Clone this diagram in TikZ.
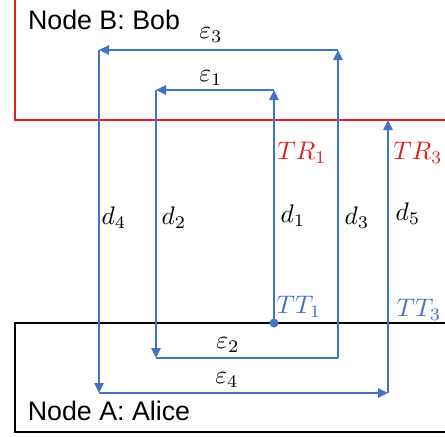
\documentclass[tikz,border=0pt]{standalone}
\usepackage{fontspec}
\setmainfont{Liberation Sans}
\usetikzlibrary{arrows.meta}
\definecolor{linkblue}{RGB}{68,114,196}
\definecolor{bobred}{RGB}{226,30,30}
\begin{document}
\begin{tikzpicture}[x=0.5pt, y=-0.5pt,
			link/.style = {draw=linkblue, line width=1pt},
			tip/.style = {-{Triangle[length=5pt, width=4.6pt]}},
			lbl/.style = {inner sep=0pt, font=\fontsize{10}{12}\selectfont, scale=1.27, transform shape},
			box/.style = {inner sep=0pt, font=\fontsize{13.4}{16}\selectfont}]
			
			\useasboundingbox (0,0) rectangle (445,436);
			
			% the two nodes
			\draw[bobred, line width=1pt] (15,-5) -- (15,120) -- (450,120);
			\draw[black, line width=0.75pt] (450,323) -- (15,323) -- (15,432) -- (450,432);
			\node[box] (bob) at (104,20) {Node B: Bob};
			\node[box] (alice) at (109,411) {Node A: Alice};
			
			% corners of the path
			\node[circle, fill=linkblue, inner sep=0pt, minimum size=4.5pt] (tt1) at (274,323) {};
			\coordinate (c1) at (274,90);
			\coordinate (c2) at (156,90);
			\coordinate (c3) at (156,358);
			\coordinate (c4) at (338,358);
			\coordinate (c5) at (338,50);
			\coordinate (c6) at (99,50);
			\coordinate (c7) at (99,393);
			\coordinate (c8) at (388,393);
			\coordinate (tr3) at (388,120);
			
			\draw[link, tip] (tt1.center) -- (c1);
			\draw[link, tip] (c1) -- (c2);
			\draw[link, tip] (c2) -- (c3);
			\draw[link] (c3) -- (c4);
			\draw[link, tip] (c4) -- (c5);
			\draw[link, tip] (c5) -- (c6);
			\draw[link, tip] (c6) -- (c7);
			\draw[link, tip] (c7) -- (c8);
			\draw[link, tip] (c8) -- (tr3);
			
			% delays and offsets
			\node[lbl] (e3) at (211,35) {$\varepsilon_3$};
			\node[lbl] (e1) at (211,78) {$\varepsilon_1$};
			\node[lbl] (e2) at (228,345) {$\varepsilon_2$};
			\node[lbl] (e4) at (227,380) {$\varepsilon_4$};
			\node[lbl] (d4) at (114,218) {$d_4$};
			\node[lbl] (d2) at (174,218) {$d_2$};
			\node[lbl] (d1) at (293,216) {$d_1$};
			\node[lbl] (d3) at (357,218) {$d_3$};
			\node[lbl] (d5) at (408,214) {$d_5$};
			\node[lbl, text=bobred] (tr1lbl) at (302,153) {$TR_1$};
			\node[lbl, text=bobred] (tr3lbl) at (418,153) {$TR_3$};
			\node[lbl, text=linkblue] (tt1lbl) at (299,307) {$TT_1$};
			\node[lbl, text=linkblue] (tt3lbl) at (419,310) {$TT_3$};
			\end{tikzpicture}
\end{document}
